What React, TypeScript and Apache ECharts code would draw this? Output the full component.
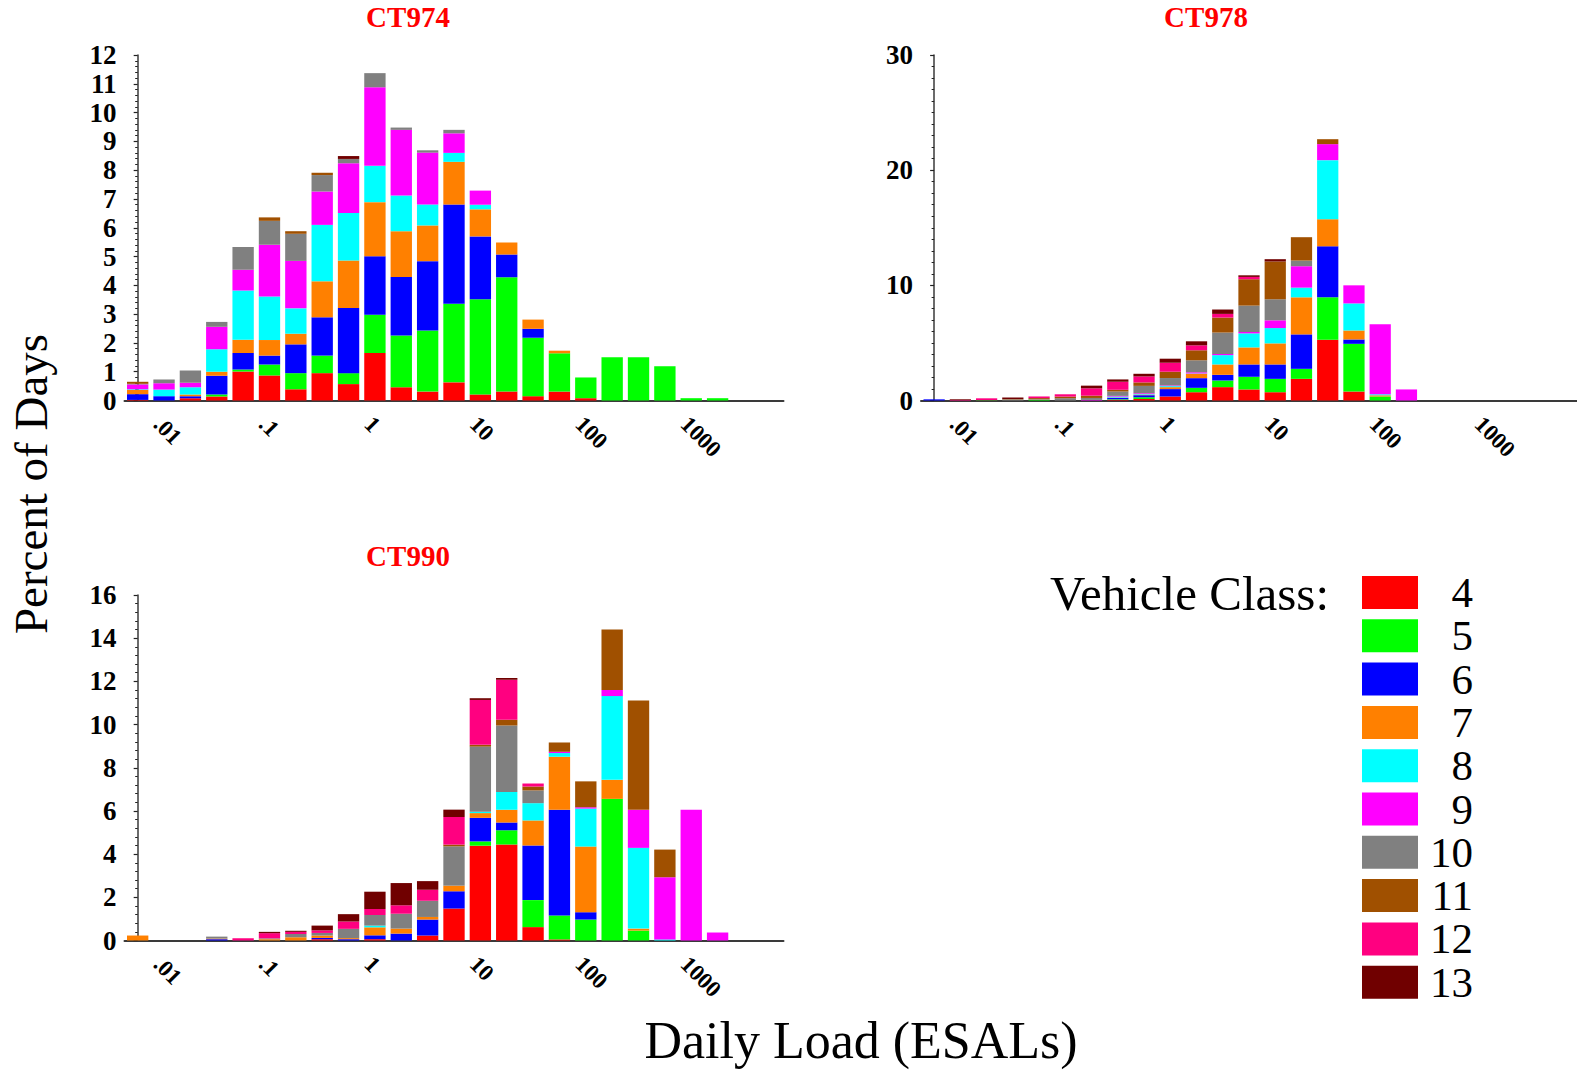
import React, { useEffect, useRef } from "react";
import * as echarts from "echarts";

// Quarter-decade ESAL bins shared by all three sites (upper bin edges)
const BINS = [
  ".0075", ".013", ".024", ".042", ".075", ".13", ".24", ".42", ".75", "1.3",
  "2.4", "4.2", "7.5", "13", "24", "42", "75", "133", "237", "422",
  "750", "1334", "2371", "4217", "7499",
];

// Decade tick labels and their positions in bin units
const DECADE_LABELS = [".01", ".1", "1", "10", "100", "1000"];
const DECADE_POS = [0.75, 4.75, 8.75, 12.75, 16.75, 20.75];

const CLASSES = ["4", "5", "6", "7", "8", "9", "10", "11", "12", "13"];
const CLASS_COLORS = [
  "#ff0000", "#00ff00", "#0000ff", "#ff8000", "#00ffff",
  "#ff00ff", "#808080", "#a05000", "#ff0080", "#700000",
];

// Percent of days per bin, one row per vehicle class (4..13)
const CT974: number[][] = [
  [0.02, 0, 0.08, 0.14, 1.01, 0.87, 0.39, 0.95, 0.57, 1.65, 0.46, 0.31, 0.63, 0.21, 0.31, 0.15, 0.31, 0.08, 0, 0, 0, 0, 0],
  [0, 0, 0, 0.07, 0.07, 0.38, 0.56, 0.61, 0.38, 1.33, 1.8, 2.12, 2.73, 3.31, 3.97, 2.03, 1.33, 0.72, 1.5, 1.5, 1.19, 0.08, 0.08],
  [0.2, 0.15, 0.07, 0.65, 0.57, 0.31, 1.0, 1.33, 2.26, 2.03, 2.03, 2.41, 3.45, 2.18, 0.79, 0.31, 0, 0, 0, 0, 0, 0, 0],
  [0.15, 0, 0.06, 0.14, 0.46, 0.54, 0.37, 1.25, 1.65, 1.88, 1.59, 1.24, 1.48, 0.94, 0.42, 0.32, 0.09, 0, 0, 0, 0, 0, 0],
  [0.02, 0.23, 0.25, 0.78, 1.71, 1.51, 0.88, 1.96, 1.65, 1.26, 1.24, 0.73, 0.31, 0.16, 0, 0, 0, 0, 0, 0, 0, 0, 0],
  [0.17, 0.22, 0.16, 0.78, 0.72, 1.8, 1.65, 1.16, 1.73, 2.73, 2.28, 1.8, 0.68, 0.49, 0, 0, 0, 0, 0, 0, 0, 0, 0],
  [0.02, 0.13, 0.42, 0.17, 0.79, 0.83, 0.94, 0.57, 0.15, 0.49, 0.08, 0.08, 0.12, 0, 0, 0, 0, 0, 0, 0, 0, 0, 0],
  [0.07, 0, 0, 0, 0, 0.12, 0.09, 0.08, 0, 0, 0, 0, 0, 0, 0, 0, 0, 0, 0, 0, 0, 0, 0],
  [0, 0, 0, 0, 0, 0, 0, 0, 0, 0, 0, 0, 0, 0, 0, 0, 0, 0, 0, 0, 0, 0, 0],
  [0, 0, 0, 0, 0, 0, 0, 0, 0.1, 0, 0, 0, 0, 0, 0, 0, 0, 0, 0, 0, 0, 0, 0],
];

const CT978: number[][] = [
  [0, 0, 0, 0, 0, 0, 0, 0.06, 0.13, 0.35, 0.72, 1.16, 0.96, 0.72, 1.88, 5.28, 0.78, 0, 0],
  [0, 0, 0.03, 0, 0.06, 0, 0, 0.05, 0.15, 0, 0.38, 0.58, 1.1, 1.16, 0.87, 3.68, 4.14, 0.35, 0],
  [0.1, 0, 0, 0, 0, 0, 0, 0.12, 0.18, 0.64, 0.84, 0.49, 1.07, 1.25, 2.99, 4.43, 0.38, 0, 0],
  [0, 0, 0, 0, 0, 0, 0, 0.03, 0.05, 0.17, 0.38, 0.9, 1.48, 1.83, 3.22, 2.35, 0.78, 0.1, 0],
  [0, 0, 0, 0, 0, 0, 0, 0.08, 0.05, 0.09, 0.03, 0.81, 1.22, 1.33, 0.84, 5.13, 2.35, 0.09, 0],
  [0, 0, 0, 0, 0, 0, 0.05, 0.06, 0.07, 0.06, 0.1, 0.1, 0.12, 0.67, 1.86, 1.39, 1.57, 6.07, 0.96],
  [0, 0, 0, 0.1, 0.05, 0.2, 0.17, 0.38, 0.64, 0.64, 1.04, 1.86, 2.29, 1.83, 0.49, 0, 0, 0, 0],
  [0, 0, 0, 0.03, 0.1, 0.14, 0.2, 0.15, 0.3, 0.55, 0.87, 1.3, 2.29, 3.28, 2.03, 0.43, 0, 0, 0],
  [0, 0.05, 0.16, 0, 0.14, 0.2, 0.64, 0.7, 0.52, 0.78, 0.43, 0.32, 0.2, 0, 0, 0, 0, 0, 0],
  [0, 0.06, 0, 0.13, 0, 0, 0.23, 0.2, 0.23, 0.35, 0.35, 0.38, 0.14, 0.2, 0, 0, 0, 0, 0],
];

const CT990: number[][] = [
  [0, 0, 0, 0, 0, 0, 0, 0.06, 0, 0.06, 0, 0.23, 1.48, 4.39, 4.44, 0.62, 0.05, 0, 0, 0, 0, 0, 0],
  [0, 0, 0, 0, 0, 0, 0, 0, 0, 0, 0, 0, 0, 0.2, 0.66, 1.25, 1.11, 0.97, 6.56, 0.46, 0, 0, 0],
  [0, 0, 0, 0.06, 0, 0, 0, 0.06, 0.06, 0.18, 0.32, 0.74, 0.8, 1.09, 0.37, 2.53, 4.9, 0.34, 0, 0, 0, 0, 0],
  [0.23, 0, 0, 0.03, 0, 0.06, 0.15, 0.11, 0.05, 0.37, 0.23, 0.12, 0.26, 0.22, 0.59, 1.16, 2.45, 3.04, 0.88, 0.09, 0, 0, 0],
  [0, 0, 0, 0, 0, 0, 0, 0, 0, 0.08, 0, 0, 0, 0.06, 0.82, 0.8, 0.17, 1.76, 3.88, 3.74, 0.05, 0, 0],
  [0, 0, 0, 0, 0, 0, 0, 0, 0, 0, 0, 0, 0, 0, 0, 0, 0.06, 0.06, 0.28, 1.76, 2.88, 6.06, 0.37],
  [0, 0, 0, 0.09, 0, 0.04, 0.15, 0.12, 0.43, 0.49, 0.69, 0.75, 1.82, 3.02, 3.08, 0.59, 0, 0, 0, 0, 0, 0, 0],
  [0, 0, 0, 0, 0, 0, 0, 0, 0, 0, 0, 0, 0.08, 0.08, 0.26, 0.18, 0.43, 1.2, 2.8, 5.07, 1.28, 0, 0],
  [0, 0, 0, 0, 0.1, 0.24, 0.1, 0.12, 0.34, 0.28, 0.39, 0.51, 1.28, 2.08, 1.85, 0.14, 0, 0, 0, 0, 0, 0, 0],
  [0, 0, 0, 0, 0, 0.06, 0.05, 0.22, 0.34, 0.8, 1.03, 0.4, 0.34, 0.08, 0.09, 0, 0, 0, 0, 0, 0, 0, 0],
];

const SITES = ["CT974", "CT978", "CT990"];
const SITE_DATA = [CT974, CT978, CT990];
const Y_MAX = [12, 30, 16];
const Y_STEP = [1, 10, 2];
const Y_MINOR = [5, 10, 5];

const SERIF = '"Liberation Serif", "Times New Roman", serif';

// Panel placement in pixels
const PANELS = [
  { left: 124.5, top: 55, titleX: 408, titleY: 17 },
  { left: 921, top: 55, titleX: 1206, titleY: 17 },
  { left: 124.5, top: 595, titleX: 408, titleY: 556 },
];
const PLOT_W = 659;
const PLOT_H = 345.5;

// Legend rows: each row is as tall as its label text
const LEGEND_FONT = 43;
const LEGEND_PITCH = 43.3;

export default function App() {
  const ref = useRef<HTMLDivElement>(null);

  useEffect(() => {
    if (!ref.current) return;
    const chart = echarts.init(ref.current, null, { renderer: "svg" });

    const grid = PANELS.map((p) => ({
      left: p.left,
      top: p.top,
      width: PLOT_W,
      height: PLOT_H,
      containLabel: false,
    }));

    const xAxis: any[] = [];
    const yAxis: any[] = [];
    PANELS.forEach((_, i) => {
      xAxis.push({
        type: "category",
        gridIndex: i,
        data: BINS,
        boundaryGap: true,
        axisLine: { show: true, lineStyle: { color: "#3a3a3a", width: 2 } },
        axisTick: { show: false },
        axisLabel: { show: false },
        splitLine: { show: false },
      });
      xAxis.push({
        type: "value",
        gridIndex: i,
        position: "bottom",
        min: -0.5,
        max: BINS.length - 0.5,
        axisLine: { show: false },
        axisTick: { show: false },
        splitLine: { show: false },
        axisLabel: {
          show: true,
          customValues: DECADE_POS,
          formatter: (v: number) => {
            const k = DECADE_POS.findIndex((d) => Math.abs(d - v) < 1e-6);
            return k >= 0 ? DECADE_LABELS[k] : "";
          },
          rotate: -45,
          margin: 20,
          fontSize: 23,
          fontWeight: "bold",
          fontFamily: SERIF,
          color: "#000",
        },
      });
      yAxis.push({
        type: "value",
        gridIndex: i,
        min: 0,
        max: Y_MAX[i],
        interval: Y_STEP[i],
        axisLine: { show: true, lineStyle: { color: "#3a3a3a", width: 1.5 } },
        axisTick: { show: true, length: 4, lineStyle: { color: "#222", width: 1.2 } },
        minorTick: { show: true, splitNumber: Y_MINOR[i], length: 2.5, lineStyle: { color: "#222", width: 1 } },
        splitLine: { show: false },
        minorSplitLine: { show: false },
        axisLabel: {
          margin: 8,
          fontSize: 27,
          fontWeight: "bold",
          fontFamily: SERIF,
          color: "#000",
        },
      });
    });

    const series: any[] = [];
    SITE_DATA.forEach((rows, i) => {
      rows.forEach((vals, c) => {
        series.push({
          type: "bar",
          name: CLASSES[c],
          xAxisIndex: i * 2,
          yAxisIndex: i,
          stack: SITES[i],
          data: vals,
          barCategoryGap: "19%",
          itemStyle: { color: CLASS_COLORS[c] },
          emphasis: { disabled: true },
        });
      });
    });

    const graphic: any[] = [
      ...SITES.map((s, i) => ({
        type: "text",
        x: PANELS[i].titleX,
        y: PANELS[i].titleY,
        style: {
          text: s,
          fill: "#ff0000",
          fontSize: 29,
          fontWeight: "bold",
          fontFamily: SERIF,
          align: "center",
          verticalAlign: "middle",
        },
      })),
      {
        type: "text",
        x: 31,
        y: 484,
        rotation: Math.PI / 2,
        style: {
          text: "Percent of Days",
          fill: "#000",
          fontSize: 47,
          fontFamily: SERIF,
          align: "center",
          verticalAlign: "middle",
        },
      },
      {
        type: "text",
        x: 861,
        y: 1040,
        style: {
          text: "Daily Load (ESALs)",
          fill: "#000",
          fontSize: 52,
          fontFamily: SERIF,
          align: "center",
          verticalAlign: "middle",
        },
      },
      {
        type: "text",
        x: 1329,
        y: 593,
        style: {
          text: "Vehicle Class:",
          fill: "#000",
          fontSize: 49,
          fontFamily: SERIF,
          align: "right",
          verticalAlign: "middle",
        },
      },
    ];

    chart.setOption({
      animation: false,
      backgroundColor: "#ffffff",
      textStyle: { fontFamily: SERIF },
      grid,
      xAxis,
      yAxis,
      series,
      graphic,
      legend: {
        data: CLASSES,
        orient: "vertical",
        left: 1362,
        top: 576 - (LEGEND_FONT - 33) / 2,
        height: 490,
        padding: 0,
        icon: "rect",
        itemWidth: 56,
        itemHeight: 33,
        itemGap: LEGEND_PITCH - LEGEND_FONT,
        selectedMode: false,
        formatter: (name: string) => `{n|${name}}`,
        textStyle: {
          color: "#000",
          fontFamily: SERIF,
          fontSize: LEGEND_FONT,
          rich: {
            n: {
              width: 50,
              align: "right",
              verticalAlign: "middle",
              fontSize: LEGEND_FONT,
              fontFamily: SERIF,
              color: "#000",
            },
          },
        },
      },
    });

    return () => chart.dispose();
  }, []);

  return (
    <div
      ref={ref}
      style={{ position: "fixed", left: 0, top: 0, width: 1577, height: 1071, background: "#fff" }}
    />
  );
}
